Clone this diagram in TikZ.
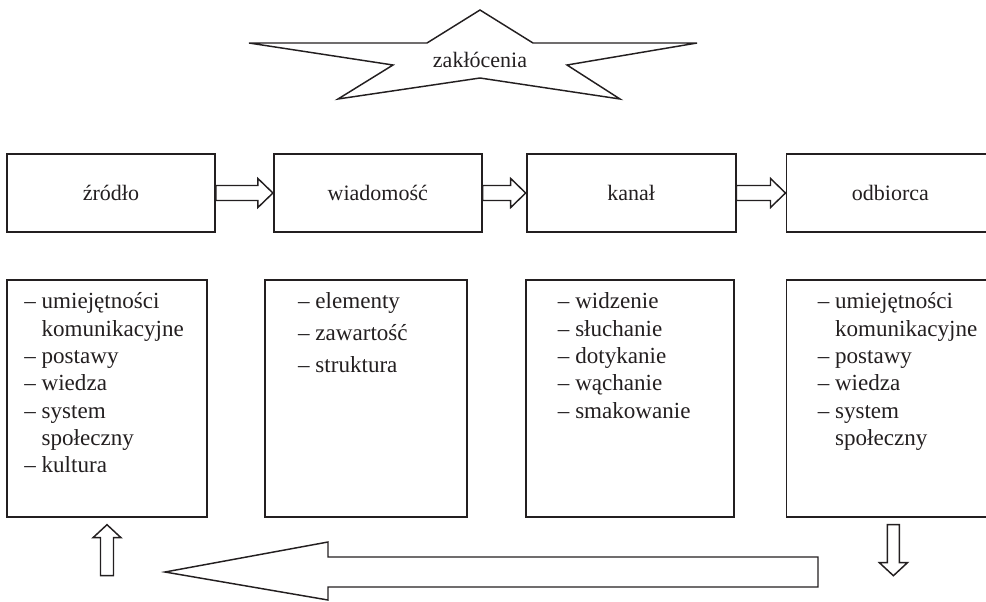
\documentclass[tikz,border=0pt]{standalone}
\usepackage{fontspec}
\setmainfont{Liberation Serif}
\usetikzlibrary{positioning,calc}
\definecolor{ink}{RGB}{35,31,32}
\tikzset{top box/.style={draw=ink, line width=1.35pt, minimum width=156pt, minimum height=58.5pt, inner sep=0pt},
  low box/.style={draw=ink, line width=1.35pt, minimum height=177.75pt, inner sep=0pt},
  list/.style={anchor=base west, inner sep=0pt, font=\fontsize{17.3}{20.5}\selectfont},
  fat arrow/.style={draw=ink, line width=1.1pt, line join=miter},}
\newcommand{\flowarrow}[2]{%
  \draw[fat arrow] ($(#1.east)+(0,-7.5)$) -- ($(#2.west)+(-15,-7.5)$) -- ++(0,-7) -- (#2.west)
    -- ($(#2.west)+(-15,14.5)$) -- ++(0,-7) -- ($(#1.east)+(0,7.5)$) -- cycle;}

\begin{document}
\begin{tikzpicture}[x=0.75pt, y=-0.75pt, text=ink, font=\fontsize{16.5}{20.5}\selectfont]
        \useasboundingbox (0,0) rectangle (986,601);
        % Star
        \draw[fat arrow] (249,43) -- (427,43) -- (480,10) -- (533,43) -- (697,43) -- (567,65)
          -- (620,99) -- (480,78) -- (338,99) -- (393,65) -- cycle;
        \node[anchor=base, inner sep=0pt] (zaklocenia) at (480,67) {zakłócenia};
        % Top row
        \node[top box] (zrodlo) at (111,193) {źródło};
        \node[top box] [right = 42.75pt of zrodlo] (wiadomosc) {wiadomość};
        \node[top box, minimum width=156.75pt] [right = 32.25pt of wiadomosc] (kanal) {kanał};
        \node[top box] [right = 36.75pt of kanal] (odbiorca) {odbiorca};
        % Lower boxes
        \node[low box, minimum width=150pt] [below right = 34.5pt and 0pt of zrodlo.south west] (l1) {};
        \node[low box, minimum width=151.5pt] [below right = 34.5pt and -6.75pt of wiadomosc.south west] (l2) {};
        \node[low box, minimum width=156pt] [below right = 34.5pt and -0.75pt of kanal.south west] (l3) {};
        \node[low box, minimum width=156pt] [below right = 34.5pt and 0pt of odbiorca.south west] (l4) {};
        % Lists
        \node[list] (t1) at ($(l1.north west)+(18,30)$) {\begin{tabular}[t]{@{}l@{\ }l@{}}
          – & umiejętności\\ & komunikacyjne\\ – & postawy\\ – & wiedza\\
          – & system\\ & społeczny\\ – & kultura\end{tabular}};
        \node[list] (t2) at ($(l2.north west)+(34,30)$) {\begin{tabular}[t]{@{}l@{\ }l@{}}
          – & elementy\\[3.5pt] – & zawartość\\[3.5pt] – & struktura\end{tabular}};
        \node[list] (t3) at ($(l3.north west)+(33,30)$) {\begin{tabular}[t]{@{}l@{\ }l@{}}
          – & widzenie\\ – & słuchanie\\ – & dotykanie\\ – & wąchanie\\ – & smakowanie\end{tabular}};
        \node[list] (t4) at ($(l4.north west)+(32,30)$) {\begin{tabular}[t]{@{}l@{\ }l@{}}
          – & umiejętności\\ & komunikacyjne\\ – & postawy\\ – & wiedza\\
          – & system\\ & społeczny\end{tabular}};
        % Arrows
        \flowarrow{zrodlo}{wiadomosc}
        \flowarrow{wiadomosc}{kanal}
        \flowarrow{kanal}{odbiorca}
        \draw[fat arrow] ($(l1.south)+(0,7)$) -- ++(14,13) -- ++(-7.5,0) -- ++(0,38) -- ++(-13,0)
          -- ++(0,-38) -- ++(-7.5,0) -- cycle;
        \draw[fat arrow] ($(l4.south)+(-3,7)$) -- ++(12,0) -- ++(0,38) -- ++(8,0) -- ++(-14,13)
          -- ++(-14,-13) -- ++(8,0) -- cycle;
        \draw[fat arrow] (818,557) -- (328,557) -- (328,542) -- (165,572) -- (328,600) -- (328,587)
          -- (818,587) -- cycle;
    \end{tikzpicture}
\end{document}
